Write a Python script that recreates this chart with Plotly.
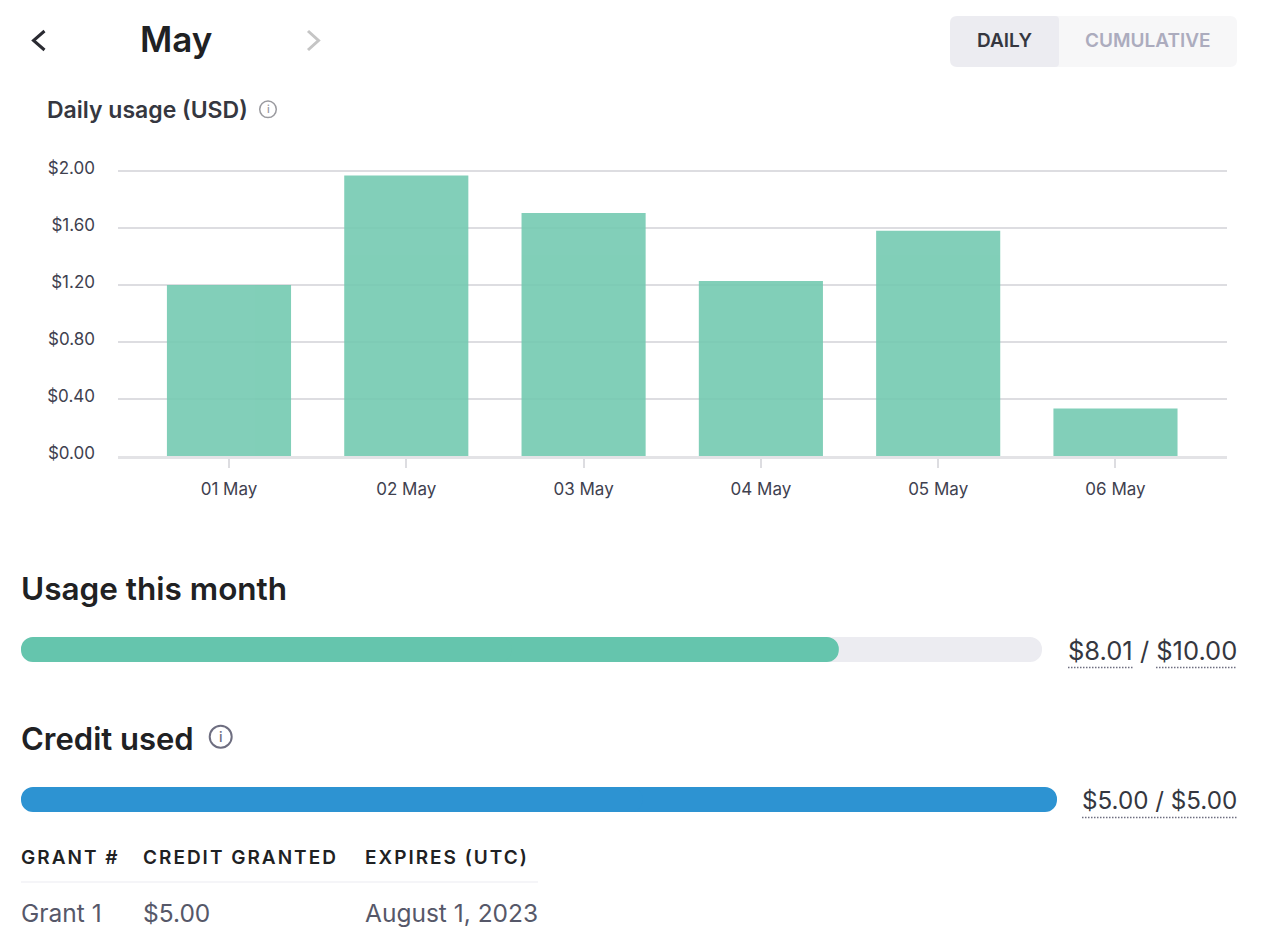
import plotly.graph_objects as go

W, H = 1280, 949

# ---- data ----
days = ["01 May", "02 May", "03 May", "04 May", "05 May", "06 May"]
daily_usage = [1.20, 1.968, 1.705, 1.228, 1.58, 0.333]
y_ticks = [0.0, 0.4, 0.8, 1.2, 1.6, 2.0]
y_tick_labels = ["$0.00", "$0.40", "$0.80", "$1.20", "$1.60", "$2.00"]
usage_used = 8.01
usage_limit = 10.0
credit_used = 5.0
credit_limit = 5.0
table_headers = ["GRANT #", "CREDIT GRANTED", "EXPIRES (UTC)"]
table_row = ["Grant 1", "$5.00", "August 1, 2023"]

FONT = "Inter"
GREEN = "#65C5AD"
BLUE = "#2D93D2"
TRACK = "#ECECF1"
SPACING = 2.0


def px(x):
    return x / W


def py(y):
    return 1 - y / H


notes = []


def note(x, y, text, size, color, weight=400, anchor="left"):
    notes.append(dict(
        x=px(x), y=py(y), xref="paper", yref="paper", text=text, showarrow=False,
        xanchor=anchor, yanchor="middle", borderpad=0, borderwidth=0,
        font=dict(family=FONT, size=size, color=color, weight=weight),
    ))
    return len(notes) - 1


shapes = []


def rect_rounded(x0, y0, x1, y1, fill, rl=0, rr=0):
    p = (f"M {px(x0+rl)} {py(y0)} L {px(x1-rr)} {py(y0)} "
         f"Q {px(x1)} {py(y0)} {px(x1)} {py(y0+rr)} L {px(x1)} {py(y1-rr)} "
         f"Q {px(x1)} {py(y1)} {px(x1-rr)} {py(y1)} L {px(x0+rl)} {py(y1)} "
         f"Q {px(x0)} {py(y1)} {px(x0)} {py(y1-rl)} L {px(x0)} {py(y0+rl)} "
         f"Q {px(x0)} {py(y0)} {px(x0+rl)} {py(y0)} Z")
    shapes.append(dict(type="path", path=p, xref="paper", yref="paper",
                       fillcolor=fill, line=dict(width=0), layer="below"))


def polyline(pts, color, width):
    p = "M " + " L ".join(f"{px(a)} {py(b)}" for a, b in pts)
    shapes.append(dict(type="path", path=p, xref="paper", yref="paper",
                       line=dict(color=color, width=width)))


def hline(x0, x1, y, color, width, dash="solid"):
    shapes.append(dict(type="line", x0=px(x0), x1=px(x1), y0=py(y), y1=py(y),
                       xref="paper", yref="paper",
                       line=dict(color=color, width=width, dash=dash)))


def info_icon(cx, cy, r, color, lw, size):
    shapes.append(dict(type="circle", x0=px(cx-r), x1=px(cx+r), y0=py(cy+r), y1=py(cy-r),
                       xref="paper", yref="paper", line=dict(color=color, width=lw)))
    note(cx, cy, "i", size, color, 500, "center")


fig = go.Figure()


def pill(value, color, xa, ya, name):
    """A bar rounded at both ends: two overlapping pieces growing outwards from its middle."""
    mid_r, mid_l = value * 0.4, value * 0.6
    fig.add_bar(base=[mid_r], x=[value - mid_r], y=[name], orientation="h", width=1,
                marker=dict(color=color, cornerradius=13, line=dict(width=0)),
                xaxis=xa, yaxis=ya, hoverinfo="skip")
    fig.add_bar(base=[mid_l], x=[-mid_l], y=[name], orientation="h", width=1,
                marker=dict(color=color, cornerradius=13, line=dict(width=0)),
                xaxis=xa, yaxis=ya, hoverinfo="skip")


# main chart
fig.add_bar(x=days, y=daily_usage, width=0.70, marker=dict(color="#74CAB1", line=dict(width=0)),
            opacity=0.9, xaxis="x", yaxis="y", hoverinfo="x+y")

pill(usage_limit, TRACK, "x2", "y2", "usage")
pill(usage_used, GREEN, "x2", "y2", "usage")
pill(credit_used, BLUE, "x3", "y3", "credit")

# header
polyline([(44.5, 31), (33.5, 40.5), (44.5, 50)], "#2A2B32", 3)
polyline([(308, 31), (318.5, 40.5), (308, 50)], "#C5C5C5", 3)
note(140, 39, "May", 35, "#202123", 600)
rect_rounded(1055, 16, 1237, 67, "#F7F7F8", 0, 7)
rect_rounded(950, 16, 1059, 67, TRACK, 7, 4)
note(1004.5, 40.5, "DAILY", 19, "#353740", 600, "center")
note(1148, 40.5, "CUMULATIVE", 19, "#ACACBE", 600, "center")
note(47, 110, "Daily usage (USD)", 23, "#353740", 600)
info_icon(268, 109.3, 8.3, "#9A9A9F", 1.5, 11)

# usage section
note(21, 588, "Usage this month", 31.5, "#202123", 600)
note(1237, 650, "$8.01 / $10.00", 25.5, "#353740", 400, "right")
hline(1068, 1134, 667.5, "#6E6E80", 1.5, "1.5px,1.5px")
hline(1156, 1237, 667.5, "#6E6E80", 1.5, "1.5px,1.5px")

# credit section
note(21, 738, "Credit used", 31, "#202123", 600)
info_icon(220.7, 736.8, 11, "#6E6E80", 2, 14)
note(1237, 800, "$5.00 / $5.00", 24.2, "#353740", 400, "right")
hline(1082, 1237, 817.5, "#6E6E80", 1.5, "1.5px,1.5px")

# table
col_x = [21, 143, 365]
spaced = [note(x + len(t) * SPACING / 2, 857.5, t, 19, "#202123", 600)
          for x, t in zip(col_x, table_headers)]
hline(21, 538, 882, "#ECECF1", 1.2)
for x, t in zip(col_x, table_row):
    note(x, 913, t, 24.5, "#565869")

fig.update_layout(
    width=W, height=H, margin=dict(l=0, r=0, t=0, b=0, pad=0, autoexpand=False), autosize=False,
    paper_bgcolor="white", plot_bgcolor="white", showlegend=False, barmode="overlay",
    font=dict(family=FONT, color="#40414F"),
    shapes=shapes, annotations=notes,
    xaxis=dict(domain=[px(118), px(1227)], type="category", range=[-0.626, 5.629],
               anchor="y", showline=True, linecolor="#E3E3E6", linewidth=3,
               showgrid=False, zeroline=False, ticks="outside", ticklen=9, tickwidth=1.5,
               tickcolor="#DDDDE1", tickfont=dict(family=FONT, size=17, color="#40414F"),
               ticklabelstandoff=7),
    yaxis=dict(domain=[py(456), py(161)], range=[0, 2.07], anchor="x",
               tickvals=y_ticks, ticktext=y_tick_labels, showgrid=True,
               gridcolor="#DDDDE1", gridwidth=1.5, zeroline=False, showline=False,
               ticks="", tickfont=dict(family=FONT, size=17, color="#40414F"),
               ticklabelstandoff=22, ticklabelshift=-3),
    xaxis2=dict(domain=[px(21), px(1042)], range=[0, usage_limit], anchor="y2", visible=False),
    yaxis2=dict(domain=[py(662), py(637)], range=[-0.5, 0.5], anchor="x2", visible=False),
    xaxis3=dict(domain=[px(21), px(1057)], range=[0, credit_limit], anchor="y3", visible=False),
    yaxis3=dict(domain=[py(812), py(787)], range=[-0.5, 0.5], anchor="x3", visible=False),
)

css = " ".join(f'.annotation[data-index="{i}"] text {{letter-spacing:{SPACING}px;}}' for i in spaced)
post = ("document.body.style.margin='0';document.body.style.overflow='hidden';"
        "var s=document.createElement('style');s.textContent=" + repr(css) + ";"
        "document.head.appendChild(s);")
fig.write_html("out.html", post_script=post, config=dict(displayModeBar=False))
